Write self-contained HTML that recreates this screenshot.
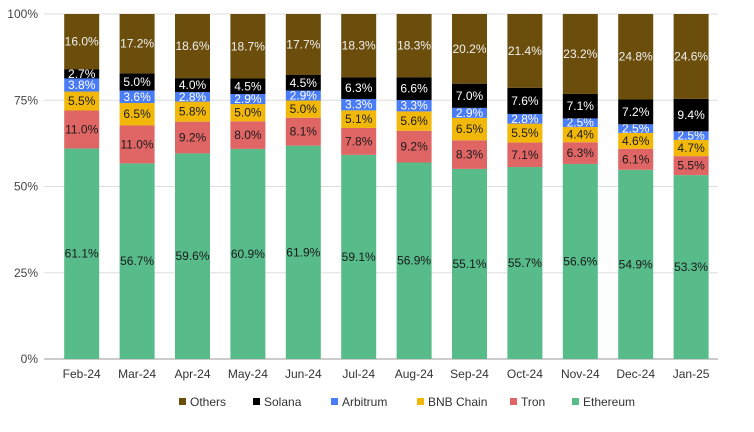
<!DOCTYPE html>
<html><head><meta charset="utf-8"><style>
body{margin:0;background:#fff;font-family:"Liberation Sans",Arial,sans-serif}
svg text{font-family:"Liberation Sans",Arial,sans-serif}
</style></head><body>
<svg id="c" width="754" height="427"></svg>
<script>
const categories=["Feb-24","Mar-24","Apr-24","May-24","Jun-24","Jul-24","Aug-24","Sep-24","Oct-24","Nov-24","Dec-24","Jan-25"];
const ethereum=[61.1,56.7,59.6,60.9,61.9,59.1,56.9,55.1,55.7,56.6,54.9,53.3];
const tron=[11.0,11.0,9.2,8.0,8.1,7.8,9.2,8.3,7.1,6.3,6.1,5.5];
const bnb=[5.5,6.5,5.8,5.0,5.0,5.1,5.6,6.5,5.5,4.4,4.6,4.7];
const arbitrum=[3.8,3.6,2.8,2.9,2.9,3.3,3.3,2.9,2.8,2.5,2.5,2.5];
const solana=[2.7,5.0,4.0,4.5,4.5,6.3,6.6,7.0,7.6,7.1,7.2,9.4];
const others=[16.0,17.2,18.6,18.7,17.7,18.3,18.3,20.2,21.4,23.2,24.8,24.6];
const yTicks=[0,25,50,75,100];
const series=[
 {name:"Ethereum",key:"ethereum",vals:ethereum,color:"#57bb8a",text:"#1a1a1a"},
 {name:"Tron",key:"tron",vals:tron,color:"#e06666",text:"#1a1a1a"},
 {name:"BNB Chain",key:"bnb-chain",vals:bnb,color:"#f1b80a",text:"#1a1a1a"},
 {name:"Arbitrum",key:"arbitrum",vals:arbitrum,color:"#4a7cf7",text:"#ffffff"},
 {name:"Solana",key:"solana",vals:solana,color:"#000000",text:"#ffffff"},
 {name:"Others",key:"others",vals:others,color:"#6b4e0c",text:"#f0f0f0"}];
const NS="http://www.w3.org/2000/svg",svgEl=document.getElementById('c');
const plotTop=14,plotBot=359,plotLeft=54,band=55.4,bw=35;
const yS=v=>plotBot-(v/100)*(plotBot-plotTop);
const xc=i=>plotLeft+band*(i+0.5);
function mk(t,a,p){const e=document.createElementNS(NS,t);for(const k in a)e.setAttribute(k,a[k]);(p||svgEl).appendChild(e);return e;}
yTicks.forEach(t=>{
 const l=mk('line',{x1:44,x2:718,y1:yS(t),y2:yS(t),stroke:t===0?'#999':'#ddd','stroke-width':1});
 
 
 const tx=mk('text',{x:38,y:yS(t)+4,'text-anchor':'end','font-size':12,fill:'#444'});tx.textContent=t+'%';
 
 
});
categories.forEach((c,i)=>{
 let tot=0;series.forEach(s=>tot+=s.vals[i]);
 let acc=0;
 series.forEach(s=>{
  const v=s.vals[i]/tot*100;
  const y0=yS(acc),y1=yS(acc+v);acc+=v;
  const r=mk('rect',{x:xc(i)-bw/2,y:y1,width:bw,height:y0-y1,fill:s.color});
  
  
  const t=mk('text',{x:xc(i),y:(y0+y1)/2+4,'text-anchor':'middle','font-size':12,fill:s.text});
  t.textContent=s.vals[i].toFixed(1)+'%';
  
  
 });
 const lt=mk('text',{x:xc(i),y:378,'text-anchor':'middle','font-size':12,fill:'#333'});lt.textContent=c;
 
 
});
const legOrder=[...series].reverse();
const g=mk('g',{});


let lx=179;
const widths={"Others":57,"Solana":61,"Arbitrum":69,"BNB Chain":76,"Tron":45,"Ethereum":60};
legOrder.forEach(s=>{
 const e=mk('g',{},g);
 
 
 mk('rect',{x:lx,y:398,width:7,height:7,fill:s.color},e);
 const t=mk('text',{x:lx+11,y:406,'font-size':12,fill:'#333'},e);t.textContent=s.name;
 lx+=widths[s.name]+17;
});
</script>
</body></html>
